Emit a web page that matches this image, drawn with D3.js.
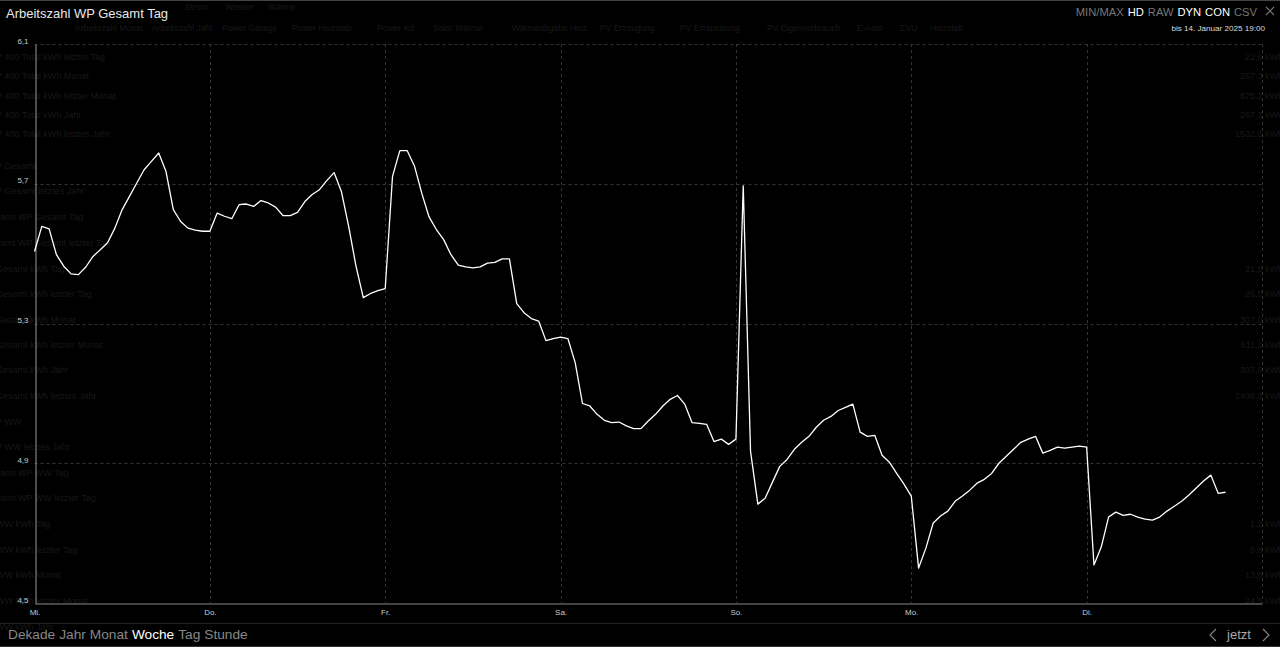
<!DOCTYPE html>
<html><head><meta charset="utf-8">
<script src="https://cdn.jsdelivr.net/npm/d3@7"></script>
<style>
html,body{margin:0;padding:0;background:#000;overflow:hidden;}
svg{display:block;font-family:"Liberation Sans",Arial,sans-serif;}
</style></head><body>
<script>
// ---- data ----
const title = "Arbeitszahl WP Gesamt Tag";
const subtitle = "bis 14. Januar 2025 19:00";
const dayLabels = ["Mi.","Do.","Fr.","Sa.","So.","Mo.","Di."];
const yTicks = [4.5, 4.9, 5.3, 5.7, 6.1];
const periodLabels = ["Dekade","Jahr","Monat","Woche","Tag","Stunde"];
const activePeriod = "Woche";
const toolItems = ["MIN/MAX","HD","RAW","DYN","CON","CSV"];
const activeTools = ["HD","DYN","CON"];
// hourly values, hour 0 = Mi. 00:00
const values = [
5.506,5.578,5.571,5.497,5.464,5.442,5.440,5.461,5.492,5.511,5.531,5.573,5.626,5.664,5.702,5.740,5.764,5.788,5.735,5.626,5.592,5.573,5.567,5.564,
5.564,5.616,5.607,5.600,5.640,5.642,5.635,5.652,5.645,5.633,5.609,5.609,5.618,5.649,5.669,5.683,5.709,5.732,5.678,5.578,5.464,5.374,5.386,5.394,
5.400,5.721,5.795,5.795,5.751,5.673,5.605,5.569,5.540,5.497,5.467,5.462,5.459,5.462,5.473,5.475,5.485,5.485,5.357,5.331,5.314,5.307,5.251,5.257,
5.261,5.257,5.188,5.071,5.064,5.040,5.023,5.016,5.018,5.007,4.999,4.999,5.021,5.040,5.064,5.083,5.094,5.069,5.016,5.014,5.011,4.962,4.969,4.954,
4.969,5.694,4.934,4.783,4.800,4.846,4.891,4.911,4.940,4.960,4.977,5.003,5.023,5.034,5.051,5.060,5.069,4.989,4.977,4.980,4.923,4.903,4.871,4.840,
4.806,4.600,4.657,4.729,4.749,4.763,4.791,4.806,4.823,4.843,4.854,4.871,4.900,4.920,4.940,4.960,4.969,4.977,4.929,4.937,4.946,4.943,4.946,4.949,
4.946,4.609,4.660,4.746,4.760,4.751,4.754,4.746,4.740,4.737,4.746,4.763,4.777,4.791,4.809,4.829,4.849,4.866,4.814,4.817
];
// faint background texts (page behind the overlay)
const ghostLeft = ["P 400 Total kWh letzter Tag","P 400 Total kWh Monat","P 400 Total kWh letzter Monat","P 400 Total kWh Jahr","P 400 Total kWh letztes Jahr","P Gesamt","P Gesamt letztes Jahr","samt WP Gesamt Tag","samt WP Gesamt letzter Tag","Gesamt kWh Tag","Gesamt kWh letzter Tag","Gesamt kWh Monat","Gesamt kWh letzter Monat","Gesamt kWh Jahr","Gesamt kWh letztes Jahr","P WW","P WW letztes Jahr","samt WP WW Tag","samt WP WW letzter Tag","WW kWh Tag","WW kWh letzter Tag","WW kWh Monat","WW kWh letzter Monat","WW kWh Jahr"];
const ghostLeftRow = [57,76,96,115,134,166,191,217,243,269,294,320,345,370,396,422,447,473,498,524,550,575,601,627];
const ghostRight = ["22,6 kWh","267,3 kWh","675,2 kWh","267,3 kWh","1532,6 kWh","21,5 kWh","26,0 kWh","307,0 kWh","611,2 kWh","307,0 kWh","2408,3 kWh","1,2 kWh","0,8 kWh","13,6 kWh","24,5 kWh"];
const ghostRightRow = [57,76,96,115,134,269,294,320,345,370,396,524,550,575,601];
const ghostTabs = ["Arbeitszahl Monat","Arbeitszahl Jahr","Power Garage","Power Heizstab","Power Kd","Solar Wärme","Wärmeabgabe Heiz.","PV Erzeugung","PV Einspeisung","PV Eigenverbrauch","E-Auto","EVU","Heizstab"];
const ghostTabX = [75,152,222,292,377,433,512,600,680,767,857,900,930];
const ghostTop = ["Strom","Wasser","Wärme"];
const ghostTopX = [185,225,268];

const W = 1280, H = 647;
const svg = d3.select("body").append("svg").attr("width", W).attr("height", H);
svg.append("rect").attr("width", W).attr("height", H).attr("fill", "#000");

// ghost layer
const g0 = svg.append("g").attr("fill", "#181818").attr("font-size", 9);
ghostLeft.forEach((t, i) => g0.append("text").attr("x", -4).attr("y", ghostLeftRow[i] + 3).text(t));
ghostRight.forEach((t, i) => g0.append("text").attr("x", 1283).attr("y", ghostRightRow[i] + 3).attr("text-anchor", "end").text(t));
ghostTabs.forEach((t, i) => g0.append("text").attr("x", ghostTabX[i]).attr("y", 31).attr("font-size", 8.5).text(t));
ghostTop.forEach((t, i) => g0.append("text").attr("x", ghostTopX[i]).attr("y", 10).attr("font-size", 8.5).text(t));

// frame lines
svg.append("line").attr("x1", 0).attr("x2", W).attr("y1", 0.5).attr("y2", 0.5).attr("stroke", "#444");
svg.append("line").attr("x1", 0).attr("x2", W).attr("y1", 623.5).attr("y2", 623.5).attr("stroke", "#222");
svg.append("line").attr("x1", 0).attr("x2", W).attr("y1", 646.5).attr("y2", 646.5).attr("stroke", "#333");

// scales
const x = d3.scaleLinear().domain([0, 168]).range([34.5, 1262]);
const y = d3.scaleLinear().domain([4.5, 6.1]).range([603, 44]);

// grid
const grid = svg.append("g").attr("stroke", "#353535").attr("stroke-dasharray", "3,3").attr("stroke-width", 1);
yTicks.filter(v => v > 4.5).forEach(v => grid.append("line")
  .attr("x1", x(0)).attr("x2", x(168)).attr("y1", Math.round(y(v)) + 0.5).attr("y2", Math.round(y(v)) + 0.5));
d3.range(1, 8).forEach(d => grid.append("line")
  .attr("x1", Math.round(x(d * 24)) + 0.5).attr("x2", Math.round(x(d * 24)) + 0.5).attr("y1", y(6.1)).attr("y2", y(4.5)));

// axes
const yAxis = d3.axisLeft(y).tickValues(yTicks).tickSize(0).tickPadding(7)
  .tickFormat(d => d3.format(".1f")(d).replace(".", ","));
const gy = svg.append("g").attr("transform", `translate(${Math.round(x(0)) + 0.5},0)`).call(yAxis);
gy.select(".domain").attr("stroke", "#999");
gy.selectAll("text").attr("fill", "#ccc").attr("font-size", 8).attr("dy", "-0.1em");

const xAxis = d3.axisBottom(x).tickValues(d3.range(0, 168, 24)).tickSize(0).tickPadding(6)
  .tickFormat((d, i) => dayLabels[i]);
const gx = svg.append("g").attr("transform", `translate(0,${Math.round(y(4.5)) + 0.5})`).call(xAxis);
gx.select(".domain").attr("stroke", "#888");
gx.selectAll("text").attr("fill", "#ccc").attr("font-size", 8);

// line
const line = d3.line().x((d, i) => x(i)).y(d => y(d));
svg.append("path").datum(values).attr("d", line).attr("fill", "none")
  .attr("stroke", "#fff").attr("stroke-width", 1.3).attr("stroke-linejoin", "round");

// header
svg.append("text").attr("x", 6).attr("y", 18).attr("fill", "#e8e8e8").attr("font-size", 13).text(title);
const tools = svg.append("text").attr("x", 1257).attr("y", 16).attr("text-anchor", "end").attr("font-size", 11.2);
toolItems.forEach((t, i) => tools.append("tspan").attr("dx", i ? 4 : 0)
  .attr("fill", activeTools.includes(t) ? "#fff" : "#777").text(t));
// close X
svg.append("path").attr("d", "M1266,7 L1274,15 M1274,7 L1266,15").attr("stroke", "#777").attr("stroke-width", 1.1);
svg.append("text").attr("x", 1265).attr("y", 31).attr("text-anchor", "end").attr("fill", "#ddd").attr("font-size", 8.1).text(subtitle);

// footer nav
const nav = svg.append("text").attr("x", 8).attr("y", 639).attr("font-size", 13.7);
periodLabels.forEach((t, i) => nav.append("tspan").attr("dx", i ? 4 : 0)
  .attr("fill", t === activePeriod ? "#fff" : "#888").text(t));
svg.append("path").attr("d", "M1216,629 L1210,635 L1216,641").attr("fill", "none").attr("stroke", "#888").attr("stroke-width", 1.1);
svg.append("path").attr("d", "M1263,629 L1269,635 L1263,641").attr("fill", "none").attr("stroke", "#888").attr("stroke-width", 1.1);
svg.append("text").attr("x", 1239).attr("y", 639).attr("text-anchor", "middle").attr("fill", "#aaa").attr("font-size", 13).text("jetzt");
</script>
</body></html>
